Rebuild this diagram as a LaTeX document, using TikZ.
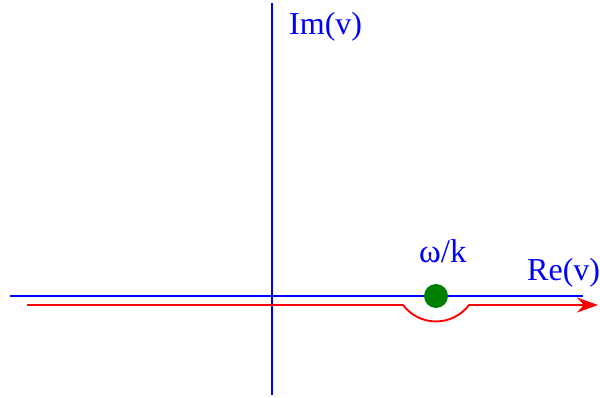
\documentclass[tikz,border=0pt]{standalone}
\usepackage{fontspec}
\setmainfont{Liberation Serif}
\usetikzlibrary{arrows.meta}
\definecolor{axisBlue}{HTML}{0000FF}
\definecolor{pathRed}{HTML}{FF0000}
\definecolor{poleGreen}{HTML}{008000}
\begin{document}
\begin{tikzpicture}[
  x=1pt,y=-1pt,
  axis/.style={axisBlue,line width=1.9pt},
  contour/.style={pathRed,line width=1.9pt,-{Stealth[length=21pt,width=15pt]}},
  lbl/.style={anchor=base west,inner sep=0pt,text=axisBlue,font=\fontsize{32}{36}\selectfont}
]
  \useasboundingbox (0,0) rectangle (600,398);
  \coordinate (reL) at (10,296);
  \coordinate (reR) at (583,296);
  \coordinate (imB) at (272,395);
  \coordinate (imT) at (272,3);
  \coordinate (cStart) at (27,305);
  \coordinate (dipL) at (403,305);
  \coordinate (dipR) at (469,305);
  \coordinate (cEnd) at (598,305);

  \draw[axis] (reL) -- (reR);
  \draw[axis] (imB) -- (imT);

  \node[circle,fill=poleGreen,minimum size=24pt,inner sep=0pt] (pole) at (436,296) {};

  \draw[contour] (cStart) -- (dipL) .. controls (419.6,326.9) and (452.4,326.9) .. (dipR) -- (cEnd);

  \node[lbl] (imLabel) at (289,35) {Im(v)};
  \node[lbl] (reLabel) at (527,280) {Re(v)};
  \node[lbl,font=\fontsize{33}{36}\selectfont] (poleLabel) at (419,263) {ω/k};
\end{tikzpicture}
\end{document}
